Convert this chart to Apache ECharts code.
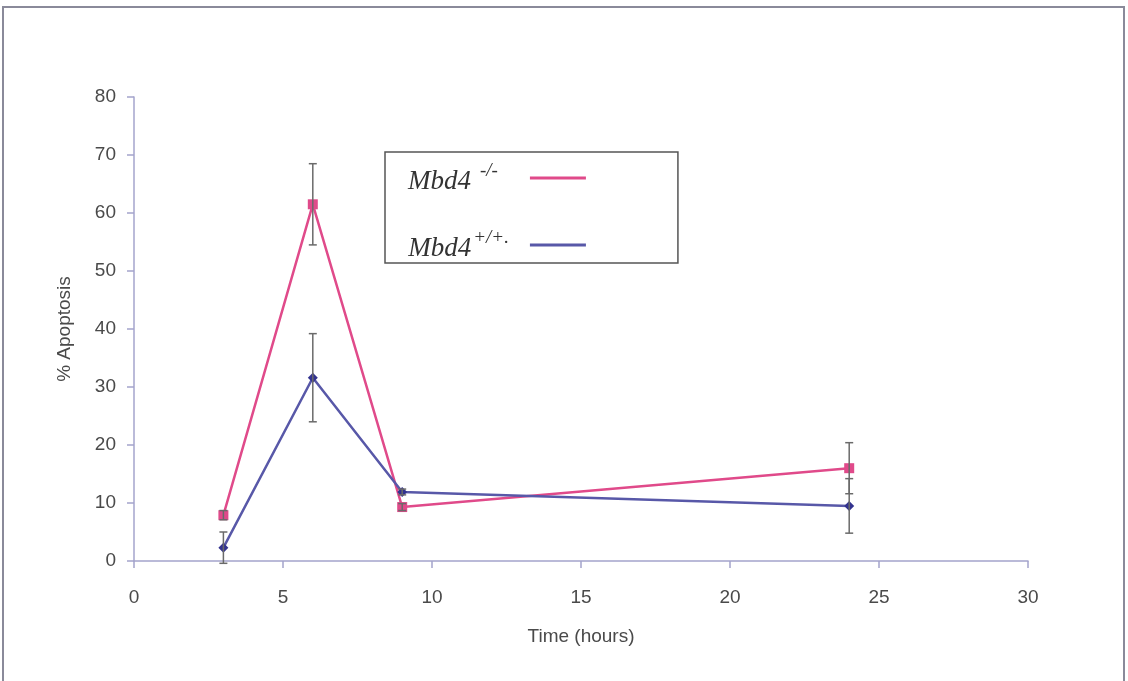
<!DOCTYPE html>
<html>
<head>
<meta charset="utf-8">
<script src="https://cdn.jsdelivr.net/npm/echarts@6/dist/echarts.min.js"></script>
<style>
  html, body { margin: 0; padding: 0; background: #fff; }
  #chart { width: 1128px; height: 681px; }
</style>
</head>
<body>
<div id="chart"></div>
<script>
// hours after treatment
const times = [3, 6, 9, 24]
// Mbd4 -/- : mean % apoptosis and error
const koMean = [7.9, 61.5, 9.3, 16.0]
const koErr = [0.8, 7.0, 0.6, 4.4]
// Mbd4 +/+ : mean % apoptosis and error
const wtMean = [2.3, 31.6, 11.9, 9.5]
const wtErr = [2.7, 7.6, 0.5, 4.7]

const xTicks = [0, 5, 10, 15, 20, 25, 30]
const yTicks = [0, 10, 20, 30, 40, 50, 60, 70, 80]

const pink = '#e04a8a'
const blueLine = '#5858a8'
const blueMark = '#33338f'
const axisCol = '#a4a4cc'
const textCol = '#4a4a4a'

const chart = echarts.init(document.getElementById('chart'))

function errBars(means, errs) {
  return times.map((t, i) => [t, means[i] - errs[i], means[i] + errs[i]])
}

function renderErr(params, api) {
  const x = api.value(0)
  const lo = api.coord([x, Math.max(api.value(1), -0.4)])
  const hi = api.coord([x, api.value(2)])
  const cap = 4
  const style = { stroke: '#6a6a6a', lineWidth: 1.5 }
  return {
    type: 'group',
    children: [
      { type: 'line', shape: { x1: hi[0], y1: hi[1], x2: lo[0], y2: lo[1] }, style },
      { type: 'line', shape: { x1: hi[0] - cap, y1: hi[1], x2: hi[0] + cap, y2: hi[1] }, style },
      { type: 'line', shape: { x1: lo[0] - cap, y1: lo[1], x2: lo[0] + cap, y2: lo[1] }, style },
    ],
  }
}

const serifIt = { fontFamily: 'Liberation Serif', fontStyle: 'italic', color: '#333', lineHeight: 34 }
const supRich = {
  m: { ...serifIt, fontSize: 27, verticalAlign: 'bottom' },
  a: { ...serifIt, fontSize: 19, verticalAlign: 'top', padding: [0, 27, 0, 9] },
  b: { ...serifIt, fontSize: 19, verticalAlign: 'top', padding: [0, 16, 0, 2] },
}

const option = {
  animation: false,
  backgroundColor: '#fff',
  grid: { left: 134, right: 100, top: 97, bottom: 120, containLabel: false },
  xAxis: {
    type: 'value', min: 0, max: 30, interval: 5,
    name: 'Time (hours)', nameLocation: 'middle', nameGap: 66,
    nameTextStyle: { fontFamily: 'Liberation Sans', fontSize: 19, color: textCol },
    axisLine: { lineStyle: { color: axisCol, width: 1.5 } },
    axisTick: { show: true, length: 7, lineStyle: { color: axisCol, width: 1.5 } },
    axisLabel: { fontFamily: 'Liberation Sans', fontSize: 19, color: textCol, margin: 27, formatter: v => xTicks.includes(v) ? String(v) : '' },
    splitLine: { show: false },
  },
  yAxis: {
    type: 'value', min: 0, max: 80, interval: 10,
    name: '% Apoptosis', nameLocation: 'middle', nameGap: 60, nameRotate: 90,
    nameTextStyle: { fontFamily: 'Liberation Sans', fontSize: 19, color: textCol },
    axisLine: { show: true, lineStyle: { color: axisCol, width: 1.5 } },
    axisTick: { show: true, length: 7, lineStyle: { color: axisCol, width: 1.5 } },
    axisLabel: { fontFamily: 'Liberation Sans', fontSize: 19, color: textCol, margin: 18, formatter: v => yTicks.includes(v) ? String(v) : '' },
    splitLine: { show: false },
  },
  legend: {
    orient: 'vertical', left: 385, top: 152, align: 'right',
    backgroundColor: '#fff',
    borderColor: '#555', borderWidth: 1.5,
    padding: [9, 92, 1, 23],
    itemGap: 33, itemWidth: 56, itemHeight: 3,
    icon: 'rect',
    formatter: name => name === 'ko' ? '{m|Mbd4}{a|-/-}' : '{m|Mbd4}{b|+/+.}',
    textStyle: { rich: supRich },
    data: [
      { name: 'ko', itemStyle: { color: pink } },
      { name: 'wt', itemStyle: { color: blueLine } },
    ],
  },
  graphic: [
    { type: 'rect', shape: { x: 3, y: 7, width: 1121, height: 700 }, style: { fill: 'none', stroke: '#8a8a9a', lineWidth: 2 }, silent: true },
  ],
  series: [
    {
      name: 'ko', type: 'line', data: times.map((t, i) => [t, koMean[i]]),
      symbol: 'rect', symbolSize: 10,
      lineStyle: { color: pink, width: 2.5 }, itemStyle: { color: pink },
      z: 3,
    },
    {
      name: 'wt', type: 'line', data: times.map((t, i) => [t, wtMean[i]]),
      symbol: 'diamond', symbolSize: 10,
      lineStyle: { color: blueLine, width: 2.5 }, itemStyle: { color: blueMark },
      z: 3,
    },
    { type: 'custom', renderItem: renderErr, data: errBars(koMean, koErr), z: 4, silent: true },
    { type: 'custom', renderItem: renderErr, data: errBars(wtMean, wtErr), z: 4, silent: true },
  ],
}

chart.setOption(option)
</script>
</body>
</html>
